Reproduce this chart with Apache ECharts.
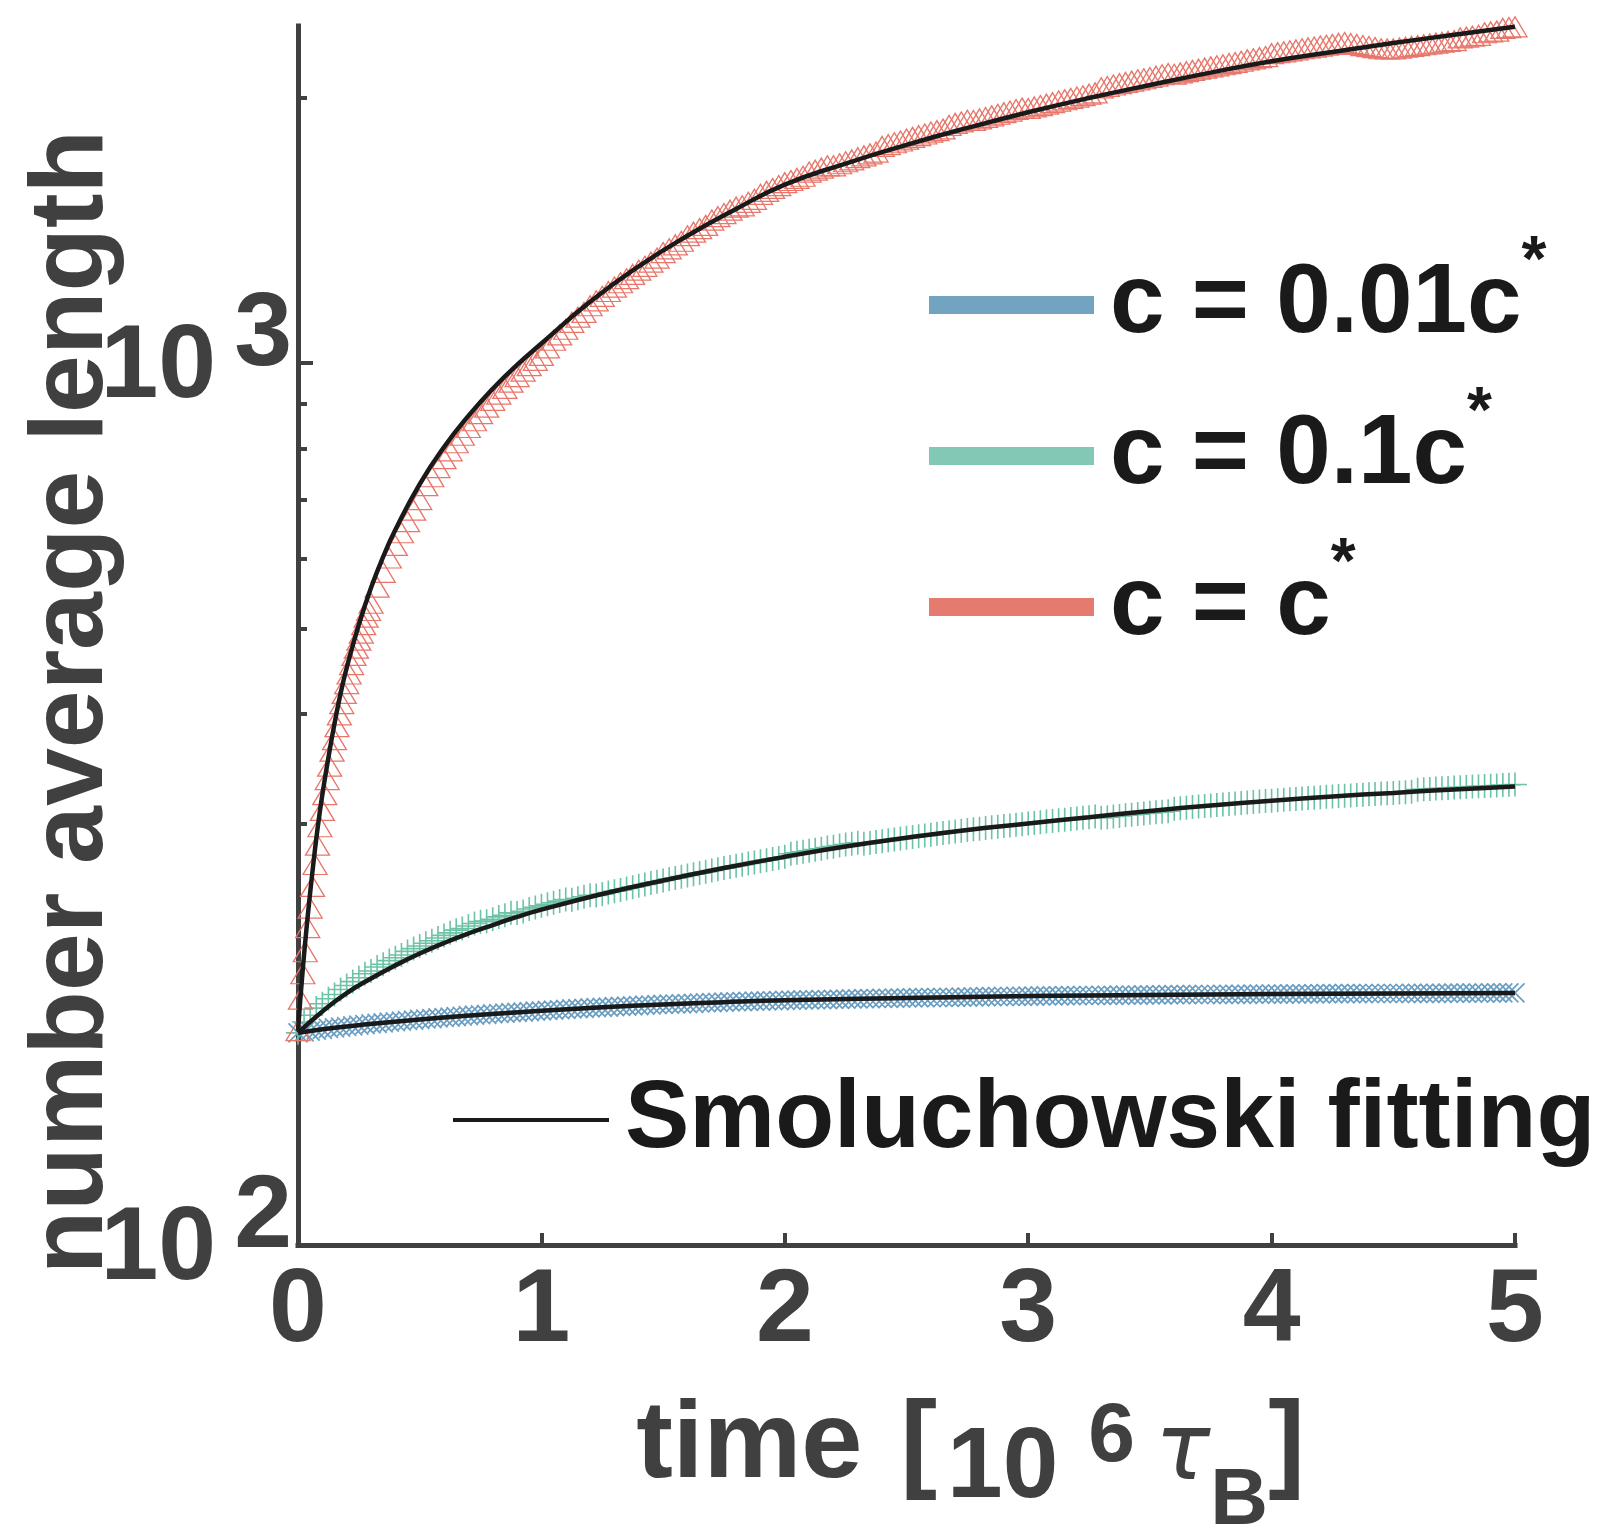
<!DOCTYPE html>
<html lang="en">
<head>
<meta charset="utf-8">
<title>Number average length vs time</title>
<script src="https://cdn.jsdelivr.net/npm/echarts@6.0.0/dist/echarts.min.js"></script>
<style>
  html, body { margin: 0; padding: 0; background: #ffffff; }
  #chart { width: 1614px; height: 1528px; }
</style>
</head>
<body>
<div id="chart"></div>
<script>
// ---------------- axes ----------------
const xTickValues = [0, 1, 2, 3, 4, 5];              // time in 10^6 tau_B
const yDecadeTicks = [100, 1000];                     // shown as 10^2 and 10^3
const yDecadeExponents = ['2', '3'];
const yMajorTicks = [100, 1000];
const yMinorTicks = [300, 400, 500, 600, 700, 800, 900, 2000];

// ---------------- legend ----------------
const seriesNames = ['c = 0.01c*', 'c = 0.1c*', 'c = c*'];
const fitName = 'Smoluchowski fitting';

// ---------------- sampling times ----------------
function sampleTimes(start, end, step) {
  const out = [];
  const n = Math.round((end - start) / step);
  for (let i = 0; i <= n; i++) out.push(+(start + i * step).toFixed(3));
  return out;
}
// dilute runs: one sample every 0.025
const timesDilute = sampleTimes(0, 5, 0.025);
// c = c*: denser sampling over the fast initial growth
const timesDense = sampleTimes(0, 0.30, 0.01).concat(sampleTimes(0.325, 5, 0.025));

// ---------------- simulation data (number average length) ----------------
const lengthDilute001 = [
  174.0,174.4,174.8,175.2,175.6,176.0,176.3,176.6,176.9,177.2,177.5,
  177.8,178.1,178.3,178.6,178.9,179.1,179.4,179.7,179.9,180.2,
  180.4,180.6,180.9,181.1,181.3,181.5,181.7,182.0,182.2,182.4,
  182.6,182.8,183.0,183.2,183.4,183.5,183.7,183.9,184.1,184.3,
  184.5,184.6,184.8,185.0,185.2,185.3,185.5,185.7,185.8,186.0,
  186.1,186.3,186.4,186.6,186.7,186.8,187.0,187.1,187.3,187.4,
  187.5,187.6,187.7,187.8,187.9,188.1,188.2,188.3,188.4,188.5,
  188.6,188.7,188.8,188.9,189.0,189.0,189.1,189.2,189.3,189.4,
  189.5,189.5,189.6,189.6,189.7,189.8,189.8,189.9,189.9,190.0,
  190.1,190.1,190.2,190.2,190.3,190.4,190.4,190.5,190.5,190.6,
  190.6,190.7,190.7,190.8,190.8,190.8,190.9,190.9,191.0,191.0,
  191.1,191.1,191.2,191.2,191.3,191.3,191.3,191.4,191.4,191.5,
  191.5,191.6,191.6,191.6,191.6,191.7,191.7,191.7,191.8,191.8,
  191.8,191.9,191.9,191.9,192.0,192.0,192.0,192.0,192.1,192.1,
  192.1,192.1,192.2,192.2,192.2,192.2,192.3,192.3,192.3,192.3,
  192.3,192.4,192.4,192.4,192.4,192.4,192.5,192.5,192.5,192.5,
  192.5,192.5,192.6,192.6,192.6,192.6,192.6,192.6,192.7,192.7,
  192.7,192.7,192.7,192.7,192.7,192.8,192.8,192.8,192.8,192.8,
  192.8,192.8,192.9,192.9,192.9,192.9,192.9,192.9,193.0,193.0,
  193.0,193.0,193.0,193.0,193.0,193.1,193.1,193.1,193.1,193.1
];
const lengthDilute01 = [
  174.0,179.0,182.2,185.6,187.7,190.2,192.3,194.8,196.9,198.9,200.9,
  203.0,204.5,206.6,208.1,210.1,211.7,213.2,215.2,216.8,218.3,
  219.8,221.3,222.9,224.4,225.9,227.5,228.5,230.0,231.5,232.6,
  232.9,234.0,235.5,236.5,238.0,237.9,238.9,240.4,241.4,242.4,
  243.4,244.4,245.4,246.4,246.2,247.2,248.2,249.2,249.0,250.0,
  251.0,251.8,252.7,253.6,254.5,255.4,256.3,257.2,258.1,259.0,
  259.9,260.7,261.6,262.4,263.3,264.1,265.0,265.8,266.7,267.5,
  268.3,269.1,269.9,270.7,271.5,272.3,273.1,273.9,274.7,275.5,
  277.7,278.4,279.2,279.9,280.7,281.4,282.2,282.9,283.7,284.4,
  285.1,285.7,285.0,285.6,286.3,286.9,287.6,288.2,288.9,289.5,
  290.1,290.7,291.3,291.9,292.5,293.1,293.7,294.3,294.9,295.5,
  296.0,296.5,297.0,297.5,298.0,298.5,299.0,299.5,300.0,300.5,
  301.0,301.5,302.0,302.5,303.0,303.5,304.0,304.5,305.0,305.5,
  306.0,305.0,305.5,306.0,306.5,307.0,307.5,308.0,308.5,309.0,
  309.4,309.8,310.3,312.3,312.8,313.2,313.7,314.1,314.6,315.0,
  315.4,315.8,316.2,316.6,317.0,317.4,317.8,318.2,318.6,319.0,
  319.4,319.7,320.1,320.4,320.8,321.1,321.5,321.8,322.2,322.5,
  322.8,323.1,323.4,323.7,324.0,324.3,324.6,324.9,325.2,325.5,
  325.8,326.1,326.4,328.3,328.6,328.9,329.2,329.5,329.8,330.1,
  330.4,330.6,330.9,331.1,331.4,331.7,331.9,332.2,332.5,332.7
];
const lengthOverlap = [
  175,190,203,215,229,241,255,270,284,298,311,324,337,349,363,374,
  387,399,411,422,433,444,455,466,475,485,494,505,515,524,534,
  557,579,601,621,642,661,681,700,726,743,761,779,795,812,828,845,
  860,876,891,907,922,936,951,965,979,993,1007,1020,
  1040,1061,1076,1092,1112,1127,1141,1161,1176,1190,
  1205,1219,1233,1246,1260,1274,1287,1301,1315,1334,
  1347,1361,1374,1394,1407,1420,1432,1452,1465,1477,
  1490,1502,1507,1521,1533,1553,1565,1577,1589,1601,
  1610,1619,1628,1646,1654,1663,1673,1673,1682,1691,
  1699,1709,1717,1726,1734,1760,1768,1777,1785,1794,
  1802,1810,1818,1827,1834,1842,1859,1869,1876,1884,
  1883,1891,1898,1906,1914,1922,1930,1938,1945,1943,
  1951,1958,1965,1973,1981,1988,1995,2002,2009,2017,
  2024,2051,2058,2066,2073,2080,2087,2094,2100,2107,
  2114,2122,2129,2125,2132,2139,2146,2153,2159,2166,
  2172,2178,2185,2191,2198,2206,2212,2219,2225,2242,
  2248,2253,2259,2264,2271,2276,2281,2287,2292,2297,
  2303,2308,2302,2297,2290,2284,2278,2271,2270,2270,
  2275,2280,2285,2290,2295,2300,2305,2310,2315,2320,
  2336,2341,2347,2352,2368,2373,2378,2395,2400,2405
];

// ---------------- Smoluchowski fits ----------------
const fitTimes001 = [0, 0.1, 0.25, 0.5, 0.75, 1.0, 1.25, 1.5, 1.75, 2.0, 2.5, 3.0, 3.5, 4.0, 4.5, 5.0];
const fitLength001 = [174, 175.6, 177.5, 180.2, 182.4, 184.3, 186.0, 187.4, 188.5, 189.4, 190.6, 191.5, 192.1, 192.5, 192.8, 193.1];
const fitTimes01 = [0, 0.1, 0.2, 0.3, 0.4, 0.5, 0.6, 0.7, 0.8, 0.9, 1.0, 1.25, 1.5, 1.75, 2.0, 2.25, 2.5, 2.75, 3.0, 3.25, 3.5, 3.75, 4.0, 4.25, 4.5, 4.75, 5.0];
const fitLength01 = [174, 184, 193, 200.5, 207.5, 214, 220, 225.5, 230.5, 235.5, 240, 250, 259, 267.5, 275.5, 283, 289.5, 295.5, 300.5, 305.5, 310.5, 315, 319, 322.5, 325.5, 328.5, 331];
const fitTimes1 = [0, 0.02, 0.04, 0.06, 0.08, 0.1, 0.125, 0.15, 0.175, 0.2, 0.25, 0.3, 0.35, 0.4, 0.5, 0.6, 0.7, 0.8, 0.9, 1.0, 1.2, 1.4, 1.6, 1.8, 2.0, 2.25, 2.5, 2.75, 3.0, 3.25, 3.5, 3.75, 4.0, 4.25, 4.5, 4.75, 5.0];
const fitLength1 = [175, 206, 236, 266, 296, 324, 357, 390, 422, 451, 505, 556, 603, 647, 729, 803, 871, 935, 995, 1052, 1173, 1287, 1394, 1495, 1593, 1683, 1767, 1847, 1924, 1997, 2066, 2134, 2198, 2252, 2305, 2355, 2405];

// ---------------- style ----------------
const FONT = "'Liberation Sans', Arial, Helvetica, sans-serif";
const GREEK = "'DejaVu Sans', 'Liberation Sans', sans-serif";
const AX = '#404040';
const INK = '#1a1a1a';
const legendColors = ['#72a3c0', '#82c8b4', '#e57a6f'];
const markerColors = ['#6a9ec1', '#6cc2a7', '#e8766b'];

const pair = (ts, vs) => ts.map((t, i) => [t, vs[i]]);

const chart = echarts.init(document.getElementById('chart'), null, { renderer: 'canvas' });

const scatterBase = { type: 'scatter', clip: false, silent: true, emphasis: { disabled: true }, z: 2 };
const fitBase = {
  type: 'line', name: fitName, showSymbol: false, smooth: 0.5,
  silent: true, emphasis: { disabled: true }, z: 5,
  lineStyle: { color: INK, width: 4.5 }, itemStyle: { color: INK }
};

const option = {
  animation: false,
  backgroundColor: '#ffffff',
  grid: { left: 298, right: 99, top: 26, bottom: 283, containLabel: false, outerBoundsMode: 'none' },
  xAxis: {
    type: 'value', min: 0, max: 5, interval: 1,
    axisLine: { show: true, onZero: false, lineStyle: { color: AX, width: 5, cap: 'square' } },
    axisTick: { show: true, inside: true, length: 12, lineStyle: { color: AX, width: 4 } },
    axisLabel: {
      fontFamily: FONT, fontSize: 104, fontWeight: 'bold', color: AX, margin: 15, lineHeight: 104,
      formatter: (v) => String(v)
    },
    splitLine: { show: false },
    name: '{a|time}{o|[}{n|10}{e|6}{t|τ}{b|B}{c|]}',
    nameLocation: 'middle', nameGap: 147, nameMoveOverlap: false,
    nameTextStyle: {
      padding: [0, 0, 0, 128],
      rich: {
        a: { fontFamily: FONT, fontSize: 110, fontWeight: 'bold', color: AX, lineHeight: 110, verticalAlign: 'middle' },
        o: { fontFamily: FONT, fontSize: 110, fontWeight: 'bold', color: AX, lineHeight: 110, verticalAlign: 'middle', padding: [0, 0, 0, 38] },
        n: { fontFamily: FONT, fontSize: 100, fontWeight: 'bold', color: AX, lineHeight: 110, verticalAlign: 'middle', padding: [44, 0, 0, 10] },
        e: { fontFamily: FONT, fontSize: 84, fontWeight: 'bold', color: AX, lineHeight: 110, verticalAlign: 'middle', padding: [0, 0, 19, 30] },
        t: { fontFamily: GREEK, fontSize: 92, fontStyle: 'italic', fontWeight: 'normal', color: AX, lineHeight: 110, verticalAlign: 'middle', padding: [16, 0, 0, 20] },
        b: { fontFamily: FONT, fontSize: 80, fontWeight: 'bold', color: AX, lineHeight: 110, verticalAlign: 'middle', padding: [110, 0, 0, 0] },
        c: { fontFamily: FONT, fontSize: 110, fontWeight: 'bold', color: AX, lineHeight: 110, verticalAlign: 'middle' }
      }
    }
  },
  yAxis: [
    {
      type: 'log', logBase: 10, min: 100, max: 2410,
      axisLine: { show: true, onZero: false, lineStyle: { color: AX, width: 5, cap: 'square' } },
      axisTick: { show: true, inside: true, length: 15, customValues: yMajorTicks, lineStyle: { color: AX, width: 4 } },
      axisLabel: {
        margin: 6,
        customValues: yDecadeTicks,
        formatter: (v) => {
          const i = yDecadeTicks.indexOf(Math.round(v));
          return i < 0 ? '' : '{b|10}{s|' + yDecadeExponents[i] + '}';
        },
        rich: {
          b: { fontFamily: FONT, fontSize: 104, fontWeight: 'bold', color: AX, lineHeight: 104, verticalAlign: 'middle', padding: [10, 0, 0, 0] },
          s: { fontFamily: FONT, fontSize: 104, fontWeight: 'bold', color: AX, lineHeight: 104, verticalAlign: 'middle', padding: [0, 0, 54, 18] }
        }
      },
      splitLine: { show: false },
      name: 'number average length',
      nameLocation: 'middle', nameGap: 173, nameMoveOverlap: false,
      nameTextStyle: {
        fontFamily: FONT, fontSize: 104, fontWeight: 'bold', color: AX, lineHeight: 104,
        padding: [0, 133, 0, 0]
      }
    },
    {
      // minor ticks of the log scale
      type: 'log', logBase: 10, min: 100, max: 2410, position: 'left',
      axisLine: { show: false },
      axisTick: { show: true, inside: true, length: 9, customValues: yMinorTicks, lineStyle: { color: AX, width: 4 } },
      axisLabel: { show: false },
      splitLine: { show: false }
    }
  ],
  legend: [
    {
      orient: 'vertical', left: 929, top: 231, padding: 0, itemGap: 3,
      itemWidth: 165, itemHeight: 18, selectedMode: false,
      data: seriesNames.map((n, i) => ({ name: n, icon: 'rect', itemStyle: { color: legendColors[i], borderWidth: 0, opacity: 1 } })),
      formatter: (n) => '{m|' + n.replace('*', '') + '}{s|*}',
      textStyle: {
        rich: {
          m: { fontFamily: FONT, fontSize: 98, fontWeight: 'bold', color: INK, lineHeight: 100, verticalAlign: 'middle', padding: [0, 0, 0, 11] },
          s: { fontFamily: FONT, fontSize: 64, fontWeight: 'bold', color: INK, lineHeight: 100, verticalAlign: 'middle', padding: [0, 0, 84, 0] }
        }
      }
    },
    {
      orient: 'vertical', left: 453, top: 1067, padding: 0,
      itemWidth: 156, itemHeight: 4, selectedMode: false,
      data: [{ name: fitName, icon: 'rect', itemStyle: { color: INK, borderWidth: 0, opacity: 1 } }],
      textStyle: { fontFamily: FONT, fontSize: 96.5, fontWeight: 'bold', color: INK, lineHeight: 96, padding: [10, 0, 0, 11] }
    }
  ],
  series: [
    Object.assign({}, scatterBase, {
      name: seriesNames[0], data: pair(timesDilute, lengthDilute001),
      symbol: 'path://M0 0L10 10M10 0L0 10', symbolSize: 19,
      itemStyle: { color: 'none', borderColor: markerColors[0], borderWidth: 1.7, opacity: 1 }
    }),
    Object.assign({}, scatterBase, {
      name: seriesNames[1], data: pair(timesDilute, lengthDilute01),
      symbol: 'path://M5 0L5 10M0 5L10 5', symbolSize: 24,
      itemStyle: { color: 'none', borderColor: markerColors[1], borderWidth: 1.6, opacity: 1 }
    }),
    Object.assign({}, scatterBase, {
      name: seriesNames[2], data: pair(timesDense, lengthOverlap),
      symbol: 'triangle', symbolSize: [24, 20],
      itemStyle: { color: 'none', borderColor: markerColors[2], borderWidth: 1.3, opacity: 1 }
    }),
    Object.assign({}, fitBase, { data: pair(fitTimes001, fitLength001) }),
    Object.assign({}, fitBase, { data: pair(fitTimes01, fitLength01) }),
    Object.assign({}, fitBase, { data: pair(fitTimes1, fitLength1) })
  ]
};

chart.setOption(option);
</script>
</body>
</html>
